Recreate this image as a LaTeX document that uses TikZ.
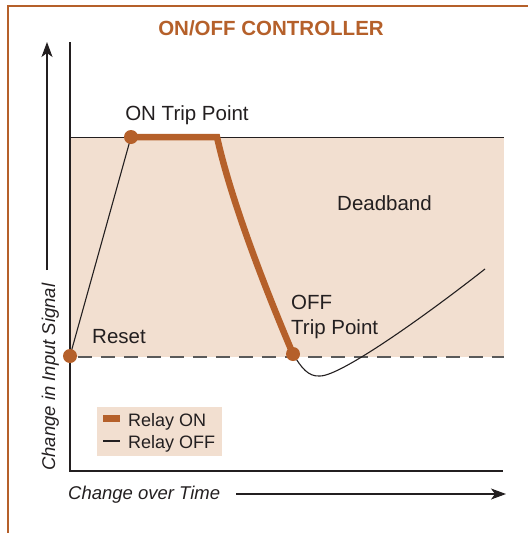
\documentclass[tikz,border=0pt]{standalone}
\usepackage{fontspec}
\setmainfont{Liberation Sans}
\usetikzlibrary{arrows.meta}
\definecolor{rust}{HTML}{B5602A}
\definecolor{band}{HTML}{F2DFD0}
\definecolor{dashgray}{HTML}{5A5A5A}
\definecolor{ink}{HTML}{231F20}
\tikzset{
  dot/.style={circle,fill=rust,inner sep=0pt,minimum size=14pt},
  thinline/.style={draw=ink,line width=1.1pt},
  relayon/.style={draw=rust,line width=6.5pt,line join=miter},
  axisline/.style={draw=ink,line width=1.3pt},
  arrowline/.style={draw=ink,line width=1.1pt,-{Stealth[length=15pt,width=11pt,inset=4pt]}},
  lbl/.style={font=\fontsize{20.5}{24}\selectfont,text=ink,inner sep=0pt},
  leglbl/.style={font=\fontsize{18}{21}\selectfont,text=ink,inner sep=0pt},
  axlbl/.style={font=\fontsize{18.5}{22}\selectfont\itshape,text=ink,inner sep=0pt},
}
\begin{document}
\begin{tikzpicture}[x=1pt,y=-1pt]
\useasboundingbox (0,0) rectangle (528,533);
% border
\draw[rust,line width=2pt] (8,533) -- (8,6) -- (528,6);
% title
\node[font=\fontsize{20.5}{24}\selectfont\bfseries,text=rust,inner sep=0pt,anchor=base] (title) at (271,35) {ON/OFF CONTROLLER};
% deadband
\fill[band] (70,137) rectangle (504,357);
\draw[draw=ink,line width=1pt] (70,137) -- (504,137);
\draw[dashgray,line width=2pt,dash pattern=on 14pt off 9pt] (78,357) -- (504,357);
% axes
\coordinate (ytop) at (70,42);
\coordinate (origin) at (70,471);
\coordinate (xend) at (503,471);
\draw[axisline] (ytop) -- (origin) -- (xend);
% axis arrows
\coordinate (yas) at (47,270);
\coordinate (yae) at (47,42);
\draw[arrowline] (yas) -- (yae);
\coordinate (xas) at (236,494);
\coordinate (xae) at (506,494);
\draw[arrowline] (xas) -- (xae);
\node[axlbl,anchor=base west] (xlabel) at (68,499) {Change over Time};
\node[axlbl,anchor=base west,rotate=90] (ylabel) at (55,471) {Change in Input Signal};
% curve points
\coordinate (resetpt) at (70,356);
\coordinate (onpt) at (131,137);
\coordinate (corner) at (217,137);
\coordinate (offpt) at (293,354);
\coordinate (minpt) at (320,376);
\coordinate (endpt) at (485,269);
% relay off
\draw[thinline] (resetpt) -- (onpt);
\draw[thinline] (offpt) .. controls (301,367) and (308,377) .. (minpt)
  .. controls (340,376) and (420,320) .. (endpt);
% relay on
\draw[relayon] (onpt) -- (corner) .. controls (232,205) and (270,300) .. (offpt);
% dots
\node[dot] (reset) at (resetpt) {};
\node[dot] (ontrip) at (onpt) {};
\node[dot] (offtrip) at (offpt) {};
% labels
\node[lbl,anchor=base] (onlbl) at (187,120) {ON Trip Point};
\node[lbl,anchor=base west] (dblbl) at (337,210) {Deadband};
\node[lbl,anchor=base west] (rslbl) at (92,343) {Reset};
\node[lbl,anchor=base west] (offlbl1) at (291,309) {OFF};
\node[lbl,anchor=base west] (offlbl2) at (291,334) {Trip Point};
% legend
\fill[band] (97,407) rectangle (222,456);
\coordinate (l1a) at (103,418.5);
\coordinate (l1b) at (120,418.5);
\draw[rust,line width=7pt] (l1a) -- (l1b);
\coordinate (l2a) at (103,441);
\coordinate (l2b) at (120,441);
\draw[thinline] (l2a) -- (l2b);
\node[leglbl,anchor=base west] (leg1) at (128,426) {Relay ON};
\node[leglbl,anchor=base west] (leg2) at (128,448) {Relay OFF};
\end{tikzpicture}
\end{document}
